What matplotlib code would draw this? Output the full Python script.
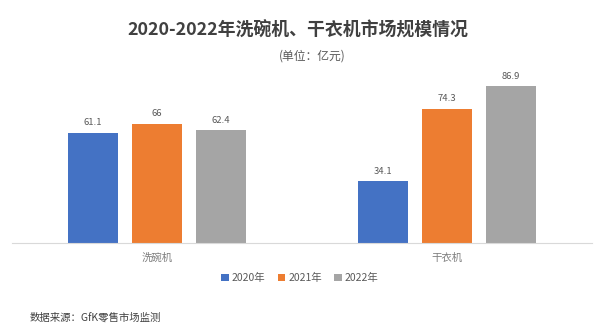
import numpy as np
import matplotlib
matplotlib.use('Agg')
import matplotlib.pyplot as plt

plt.rcParams['font.family'] = ['Noto Sans CJK SC', 'DejaVu Sans']

categories = ['洗碗机', '干衣机']
years = ['2020年', '2021年', '2022年']
values_2020 = [61.1, 34.1]
values_2021 = [66, 74.3]
values_2022 = [62.4, 86.9]
colors = ['#4472C4', '#ED7D31', '#A5A5A5']

fig = plt.figure(figsize=(6, 3.31), dpi=100)
ax = fig.add_axes([0.02, 0.266, 0.967, 0.524])

x = np.arange(len(categories))
width = 0.172
offset = 0.22
for i, (vals, lab) in enumerate(zip([values_2020, values_2021, values_2022], years)):
    bars = ax.bar(x + (i - 1) * offset, vals, width, color=colors[i], label=lab)
    for b, v in zip(bars, vals):
        ax.text(b.get_x() + b.get_width() / 2, v + 3, f'{v:g}', ha='center', va='bottom',
                fontsize=6.8, color='#595959')

ax.set_xlim(-0.5, 1.5)
ax.set_ylim(0, 96)
ax.set_yticks([])
ax.set_xticks(x)
ax.set_xticklabels(categories, fontsize=7.5, color='#7f7f7f')
ax.tick_params(axis='x', length=0, pad=7)
for s in ['top', 'right', 'left']:
    ax.spines[s].set_visible(False)
ax.spines['bottom'].set_color('#d9d9d9')

fig.text(0.497, 0.907, '2020-2022年洗碗机、干衣机市场规模情况', ha='center', va='center',
         fontsize=12.9, fontweight='bold', color='#404040')
fig.text(0.52, 0.83, '(单位：亿元)', ha='center', va='center', fontsize=8.5, color='#595959')

fig.legend(loc='center', bbox_to_anchor=(0.5, 0.16), ncol=3, frameon=False, fontsize=7.5,
           handlelength=0.7, handleheight=0.7, handletextpad=0.3, columnspacing=1.2,
           labelcolor='#595959')

fig.text(0.05, 0.04, '数据来源：GfK零售市场监测', ha='left', va='center', fontsize=7.5, color='#404040')

fig.savefig('out.png', dpi=100, facecolor='white')
